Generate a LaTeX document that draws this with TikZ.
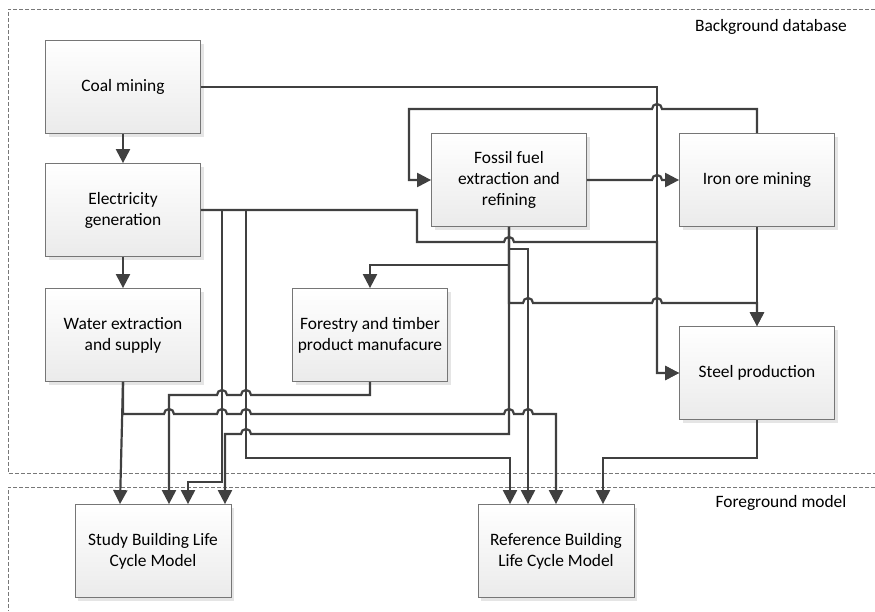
\documentclass[tikz,border=0pt]{standalone}
\usepackage{fontspec}
\setmainfont{Carlito}
\definecolor{lnkgray}{RGB}{64,64,64}
\definecolor{boxline}{RGB}{118,118,118}
\definecolor{zonegray}{RGB}{120,120,120}
\usetikzlibrary{arrows.meta,shadows}
% line hops (going right / going left)
\newcommand{\hopr}[2]{-- (#1-5,#2) arc[start angle=180,end angle=0,radius=5pt]}
\newcommand{\hopl}[2]{-- (#1+5,#2) arc[start angle=0,end angle=180,radius=5pt]}

\begin{document}
\begin{tikzpicture}[x=1pt, y=-1pt, every node/.style={font=\fontsize{17.4}{21}\selectfont},
  proc/.style={draw=boxline, line width=0.8pt, top color=white, bottom color=black!8,
    minimum width=155pt, minimum height=93pt, align=center,
    drop shadow={shadow xshift=3pt, shadow yshift=-3pt, fill=black!10, opacity=1}},
  link/.style={draw=lnkgray, line width=2.2pt, -{Triangle[length=14pt,width=14pt]}},
  zone/.style={draw=zonegray, line width=0.6pt, dash pattern=on 4pt off 2pt}]
\useasboundingbox (0,0) rectangle (875,611);
% Zones
\draw[zone] (875,9) -- (8,9) -- (8,473) -- (875,473);
\draw[zone] (875,487) -- (8,487) -- (8,611);
\node[inner sep=0pt] (bglabel) at (771,27) {Background database};
\node[inner sep=0pt] (fglabel) at (781,503) {Foreground model};
% Processes
\node[proc] (coal) at (123,87) {Coal mining};
\node[proc] (elec) at (123,210) {Electricity\\generation};
\node[proc] (water) at (123,335) {Water extraction\\and supply};
\node[proc] (forest) at (370,335) {Forestry and timber\\product manufacure};
\node[proc] (fossil) at (509,180) {Fossil fuel\\extraction and\\refining};
\node[proc] (iron) at (757,180) {Iron ore mining};
\node[proc] (steel) at (757,373) {Steel production};
\node[proc, minimum width=156pt] (study) at (153,551) {Study Building Life\\Cycle Model};
\node[proc, minimum width=156pt] (ref) at (556,551) {Reference Building\\Life Cycle Model};
% Flows
\draw[link] (coal) -- (elec);
\draw[link] (elec) -- (water);
\draw[link] (coal.east) -| (657,373) -- (steel.west);
\draw[link] (iron.north) -- (757,109) \hopl{657}{109} -- (409,109) |- (fossil.west);
\draw[link] (fossil.east) \hopr{657}{180} -- (iron.west);
\draw[link] (iron) -- (steel);
\draw[link] (elec.east) -- (417,210) -- (417,242) \hopr{509}{242} -- (657,242) |- (steel.west);
\draw[link] (elec.east) -| (222,482) -| (study.north -| 188,0);
\draw[link] (elec.east) -| (246,458) -| (ref.north -| 510,0);
\draw[link] (fossil.south) -- (509,265) -| (forest.north);
\draw[link] (fossil.south) -- (509,303) \hopr{528}{303} \hopr{657}{303} -- (757,303) -- (steel.north);
\draw[link] (fossil.south) |- (528,249) -- (ref.north -| 528,0);
\draw[link] (fossil.south) -- (509,434) \hopl{246}{434} -- (225,434) -- (study.north -| 225,0);
\draw[link] (water.south) -- (study.north -| 120,0);
\draw[link] (water.south) -- (123,414) \hopr{169}{414} \hopr{222}{414} \hopr{246}{414} \hopr{509}{414} \hopr{528}{414} -| (ref.north -| 556,0);
\draw[link] (forest.south) -- (370,395) \hopl{246}{395} \hopl{222}{395} -- (169,395) -- (study.north -| 169,0);
\draw[link] (steel.south) -- (757,458) -| (ref.north -| 603,0);
\end{tikzpicture}
\end{document}
